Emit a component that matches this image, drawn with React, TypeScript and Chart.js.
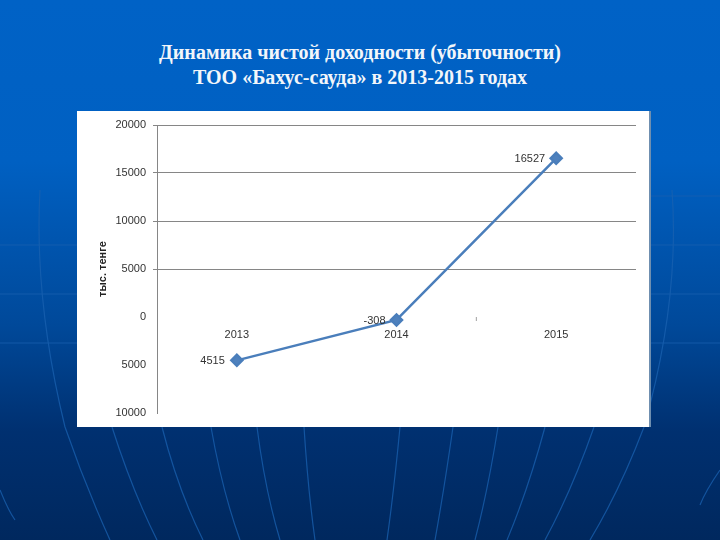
import { useEffect, useRef } from "react";
import { Chart, registerables } from "chart.js";

Chart.register(...registerables);

// data
const YEARS = ["2013", "2014", "2015"];
const PROFIT = [-4515, -308, 16527];
const POINT_LABELS = ["4515", "-308", "16527"]; // the slide drops the minus on 2013
const POINT_LABEL_SHIFT = [-12, -11, -11];
const TITLE_LINES = [
  "Динамика чистой доходности (убыточности)",
  "ТОО «Бахус-сауда» в 2013-2015 годах",
];

// faint globe lines of the slide background, decoration only
const GLOBE_LINES = [
  "M40 190 Q34 300 65 427 Q85 485 110 540",
  "M112 427 Q132 490 157 540",
  "M162 427 Q178 490 203 540",
  "M211 427 Q222 490 240 540",
  "M257 427 Q265 490 280 540",
  "M304 427 Q308 490 315 540",
  "M400 427 Q394 490 387 540",
  "M453 427 Q444 490 435 540",
  "M498 427 Q488 490 475 540",
  "M545 427 Q528 490 507 540",
  "M594 427 Q572 490 545 540",
  "M672 190 Q680 300 644 427 Q620 490 590 540",
  "M0 490 Q8 510 15 520",
  "M720 470 Q706 490 700 505",
  "M0 245 H77 M649 245 H720",
  "M0 294 H77 M649 294 H720",
  "M0 343 H77 M649 343 H720",
  "M649 196 H720",
];

const pointLabels = {
  id: "pointLabels",
  afterDatasetsDraw(chart: Chart) {
    const { ctx, scales } = chart;
    const points = chart.getDatasetMeta(0).data;
    ctx.save();
    ctx.font = "11px 'Liberation Sans'";
    ctx.fillStyle = "#333333";
    ctx.textAlign = "right";
    ctx.textBaseline = "middle";
    points.forEach((p, i) => {
      ctx.fillText(POINT_LABELS[i], p.x + POINT_LABEL_SHIFT[i], p.y + 1);
    });
    // little leftover tick between 2014 and 2015
    const tickX = (scales.x.getPixelForValue(1) + scales.x.getPixelForValue(2)) / 2;
    const zeroY = scales.y.getPixelForValue(0);
    ctx.strokeStyle = "#a0a0a0";
    ctx.beginPath();
    ctx.moveTo(tickX, zeroY);
    ctx.lineTo(tickX, zeroY + 4);
    ctx.stroke();
    ctx.restore();
  },
};

export default function App() {
  const canvasRef = useRef<HTMLCanvasElement>(null);

  useEffect(() => {
    if (!canvasRef.current) return;
    const chart = new Chart(canvasRef.current, {
      type: "line",
      data: {
        labels: YEARS,
        datasets: [{
          data: PROFIT,
          borderColor: "#4a7ebb",
          borderWidth: 2.5,
          backgroundColor: "#4f81bd",
          pointStyle: "rectRot",
          pointRadius: 5.5,
          tension: 0,
        }],
      },
      options: {
        responsive: false,
        animation: false,
        layout: { padding: { top: 14, right: 13, bottom: 14, left: 0 } },
        plugins: { legend: { display: false }, tooltip: { enabled: false } },
        scales: {
          x: {
            position: { y: 0 },
            offset: true,
            grid: { display: false },
            border: { display: false },
            ticks: {
              padding: 3,
              maxRotation: 0,
              color: "#333333",
              font: { family: "'Liberation Sans'", size: 11 },
            },
          },
          y: {
            min: -10000,
            max: 20000,
            afterFit: (axis: any) => { axis.width = 80; },
            title: {
              display: true,
              text: "тыс. тенге",
              color: "#222222",
              padding: { top: 19, bottom: 0 },
              font: { family: "'Liberation Sans'", size: 11, weight: "bold" },
            },
            grid: {
              color: (c: any) => (c.tick.value > 0 ? "#868686" : "rgba(0,0,0,0)"),
              tickLength: 4,
            },
            border: { color: "#868686" },
            ticks: {
              stepSize: 5000,
              padding: 7,
              color: "#333333",
              font: { family: "'Liberation Sans'", size: 11 },
              callback: (v: any) => String(Math.abs(v)), // no minus on the slide's axis
            },
          },
        },
      },
      plugins: [pointLabels],
    });
    return () => chart.destroy();
  }, []);

  return (
    <div style={{
      position: "relative", width: 720, height: 540, overflow: "hidden",
      background: "linear-gradient(180deg, #0062c6 0%, #0060c2 30%, #00499a 60%, #003070 80%, #00285e 100%)",
    }}>
      <style>{"body{margin:0}"}</style>
      <svg width={720} height={540} style={{ position: "absolute", left: 0, top: 0 }}>
        <path d={GLOBE_LINES.join(" ")} fill="none" stroke="#1a62b0" strokeOpacity={0.75} strokeWidth={1.2} />
      </svg>
      {TITLE_LINES.map((line, i) => (
        <div key={line} style={{
          position: "absolute", left: 0, width: 720, top: 41 + i * 25, textAlign: "center",
          fontFamily: "'Liberation Serif'", fontWeight: "bold", fontSize: 20, lineHeight: "22px",
          color: "#f2f6fa", whiteSpace: "nowrap",
        }}>
          {line}
        </div>
      ))}
      <div style={{
        position: "absolute", left: 77, top: 111, width: 572, height: 316,
        background: "#ffffff", boxShadow: "2px 0 0 #6f8fb0",
      }}>
        <canvas ref={canvasRef} width={572} height={316} style={{ display: "block" }} />
      </div>
    </div>
  );
}
